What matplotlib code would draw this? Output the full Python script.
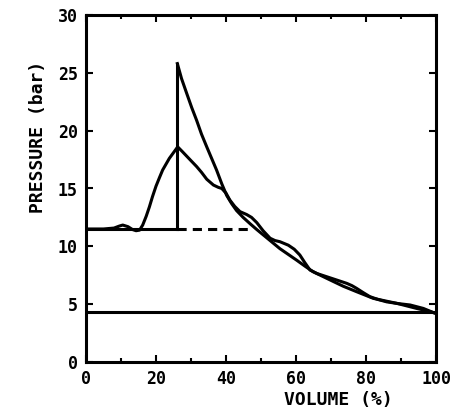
import numpy as np
import matplotlib
matplotlib.use("Agg")
import matplotlib.pyplot as plt
from matplotlib.ticker import MultipleLocator

# baseline / outlet lines
p_inlet = 11.5
p_outlet = 4.3
v_close = 26.1
v_dash_end = 47.5

# calculated curve
calc_v = [26.1, 27.3, 28.8, 30.2, 31.6, 33.0, 34.5, 35.9, 37.3, 38.8, 40.2, 41.6, 43.0, 44.9, 46.9,
          48.8, 50.6, 53.0, 55.4, 57.8, 60.2, 62.5, 64.9, 67.3, 69.7, 73.5, 77.3, 82.1, 88.8,
          94.5, 97.5, 100.0]
calc_p = [25.8, 24.5, 23.2, 22.0, 20.9, 19.7, 18.6, 17.6, 16.6, 15.4, 14.4, 13.7, 13.1, 12.5, 11.95,
          11.45, 11.0, 10.4, 9.8, 9.3, 8.8, 8.3, 7.8, 7.45, 7.1, 6.55, 6.08, 5.5, 5.07,
          4.63, 4.42, 4.2]

# measured curve
meas_v = [0, 5, 8, 9.5, 10.5, 12.0, 13.3, 14.3, 15.3, 16.2, 17.2, 18.1, 19.0, 20.0, 21.0, 21.9, 23.8,
          25.0, 26.2, 27.5, 29.7, 31.6, 33.0, 34.5, 36.4, 37.8, 38.8, 40.0, 41.1, 42.5, 44.0,
          45.9, 47.3, 48.8, 50.6, 52.6, 54.0, 55.4, 57.8, 59.5, 61.1, 62.5, 64.0, 66.0, 68.8,
          71.5, 74.5, 76.0, 77.3, 79.2, 81.1, 83.5, 85.9, 89.2, 92.6, 96.4, 99.2, 100.0]
meas_p = [11.5, 11.5, 11.58, 11.75, 11.84, 11.7, 11.45, 11.35, 11.4, 11.84, 12.6, 13.4, 14.3, 15.2, 15.95, 16.6, 17.6,
          18.1, 18.6, 18.2, 17.5, 16.9, 16.4, 15.8, 15.3, 15.1, 15.0, 14.6, 14.0, 13.45, 13.0,
          12.75, 12.5, 12.05, 11.35, 10.7, 10.5, 10.4, 10.1, 9.75, 9.25, 8.6, 7.95, 7.65, 7.37,
          7.1, 6.8, 6.6, 6.37, 6.0, 5.65, 5.4, 5.2, 5.05, 4.93, 4.63, 4.28, 4.2]

plt.rcParams['font.family'] = ['DejaVu Sans Mono']
plt.rcParams['font.weight'] = 'bold'

fig = plt.figure(figsize=(4.61, 4.19), dpi=100)
ax = fig.add_axes([86 / 461, 57 / 419, 350 / 461, 347 / 419])

lw = 2.2
ax.plot(calc_v, calc_p, color='black', lw=lw)
ax.plot(meas_v, meas_p, color='black', lw=lw)
ax.plot([0, v_close], [p_inlet, p_inlet], color='black', lw=lw)
ax.plot([v_close, v_dash_end], [p_inlet, p_inlet], color='black', lw=lw, ls=(0, (3, 2)))
ax.plot([v_close, v_close], [p_inlet, calc_p[0]], color='black', lw=lw)
ax.plot([0, 100], [p_outlet, p_outlet], color='black', lw=lw)

ax.set_xlim(0, 100)
ax.set_ylim(0, 30)
ax.xaxis.set_major_locator(MultipleLocator(20))
ax.xaxis.set_minor_locator(MultipleLocator(10))
ax.yaxis.set_major_locator(MultipleLocator(5))
ax.tick_params(which='both', direction='in', top=True, right=True, width=1.5,
               labelsize=12, pad=6)
ax.tick_params(which='major', length=5)
ax.tick_params(which='minor', length=3)
for s in ax.spines.values():
    s.set_linewidth(2.2)

ax.set_xlabel('VOLUME (%)', fontsize=13, fontweight='bold', x=0.72, labelpad=2)
ax.set_ylabel('PRESSURE (bar)', fontsize=13, fontweight='bold', y=0.65, labelpad=8)

fig.savefig('out.png', dpi=100)
